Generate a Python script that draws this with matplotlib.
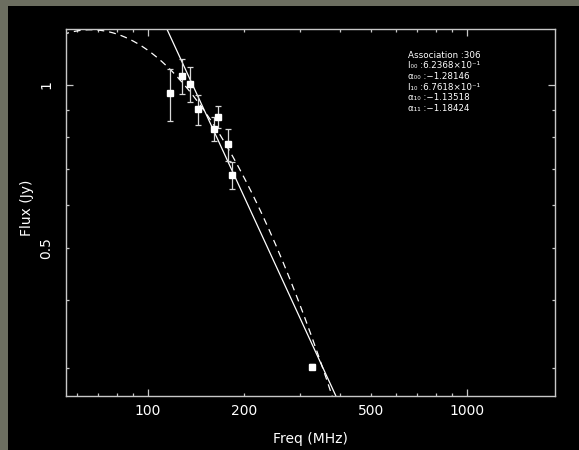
import numpy as np
import matplotlib.pyplot as plt
from matplotlib.patches import Rectangle
from matplotlib.ticker import FixedLocator, FuncFormatter

# Виміряні точки (частота в МГц, потік в Ян)
freq = [117.1, 128.6, 135.3, 143.4, 160.9, 166.5, 178.0, 183.2, 326.4]
flux = [0.965, 1.039, 1.0055, 0.902, 0.829, 0.874, 0.777, 0.681, 0.3015]
flux_err = [0.107, 0.078, 0.076, 0.058, 0.042, 0.042, 0.053, 0.040, 0.003]

# Параметри апроксимацій
assoc = 306
nu0 = 200.0
I00, a00 = 0.62368, -1.28146
I10, a10, a11 = 0.67618, -1.13518, -1.18424

xticks_major = [100, 1000]
xticks_minor = [60, 70, 80, 90, 200, 300, 400, 500, 600, 700, 800, 900]
xlabels = [100, 200, 500, 1000]
yticks_major = [1.0]
yticks_minor = [0.3, 0.4, 0.5, 0.6, 0.7, 0.8, 0.9]
ylabels = [0.5, 1.0]

W, H = 579, 450
fig = plt.figure(figsize=(W / 100, H / 100), dpi=100, facecolor='#6c6e60')
fig.patches.append(Rectangle((8 / W, 0), 1 - 8 / W, 1 - 6 / H, transform=fig.transFigure,
                             facecolor='black', edgecolor='none', zorder=-10))

ax = fig.add_axes([65.7 / W, 1 - 395.5 / H, (554.5 - 65.7) / W, (395.5 - 29) / H])
ax.set_facecolor('black')
ax.set_xscale('log')
ax.set_yscale('log')
ax.set_xlim(55.4, 1880)
ax.set_ylim(0.2667, 1.269)

# Моделі
nu = np.logspace(np.log10(50), np.log10(2000), 500)
x = np.log10(nu / nu0)
s_pl = I00 * 10 ** (a00 * x)
s_curv = I10 * 10 ** (a10 * x + a11 * x ** 2)
ax.plot(nu, s_pl, color='white', lw=0.9)
ax.plot(nu, s_curv, color='white', lw=0.9, dashes=(5.5, 4))

ax.errorbar(freq, flux, yerr=flux_err, fmt='s', color='white', ms=3.8, mec='white',
            ecolor='#d8d8d8', elinewidth=0.9, capsize=2.2, capthick=0.9)

# Осі
for sp in ax.spines.values():
    sp.set_color('#c8c8c8')
    sp.set_linewidth(1.0)

def lab(vals):
    def f(v, p):
        for t in vals:
            if abs(v - t) < 1e-6 * t:
                return '%g' % t
        return ''
    return FuncFormatter(f)

ax.xaxis.set_major_locator(FixedLocator(xticks_major))
ax.xaxis.set_minor_locator(FixedLocator(xticks_minor))
ax.xaxis.set_major_formatter(lab(xlabels))
ax.xaxis.set_minor_formatter(lab(xlabels))
ax.yaxis.set_major_locator(FixedLocator(yticks_major))
ax.yaxis.set_minor_locator(FixedLocator(yticks_minor))
ax.yaxis.set_major_formatter(lab(ylabels))
ax.yaxis.set_minor_formatter(lab(ylabels))

ax.tick_params(which='both', direction='in', top=True, right=True, color='#c8c8c8',
               labelcolor='white', labelsize=10, width=0.9)
ax.tick_params(which='major', length=5)
ax.tick_params(which='minor', length=2.5)
ax.tick_params(axis='x', which='both', pad=6)
ax.tick_params(axis='y', which='both', pad=9)
for t in ax.get_yticklabels(which='both'):
    t.set_rotation(90)
    t.set_va('center')

ax.set_xlabel('Freq (MHz)', color='white', fontsize=10)
ax.xaxis.set_label_coords(0.5, -0.1)
ax.set_ylabel('Flux (Jy)', color='white', fontsize=10)
ax.yaxis.set_label_coords(-0.065, 0.5116)

# Підписи параметрів (один багаторядковий текст)
lines = [
    'Association :%d' % assoc,
    'I\u2080\u2080 :6.2368\u00d710\u207b\u00b9',
    '\u03b1\u2080\u2080 :\u2212%.5f' % abs(a00),
    'I\u2081\u2080 :6.7618\u00d710\u207b\u00b9',
    '\u03b1\u2081\u2080 :\u2212%.5f' % abs(a10),
    '\u03b1\u2081\u2081 :\u2212%.5f' % abs(a11),
]
fig.text(407.7 / W, 1 - 50.5 / H, '\n'.join(lines), color='white', fontsize=6.3,
         va='top', ha='left', linespacing=1.25)

fig.savefig('out.png', dpi=100, facecolor=fig.get_facecolor())
